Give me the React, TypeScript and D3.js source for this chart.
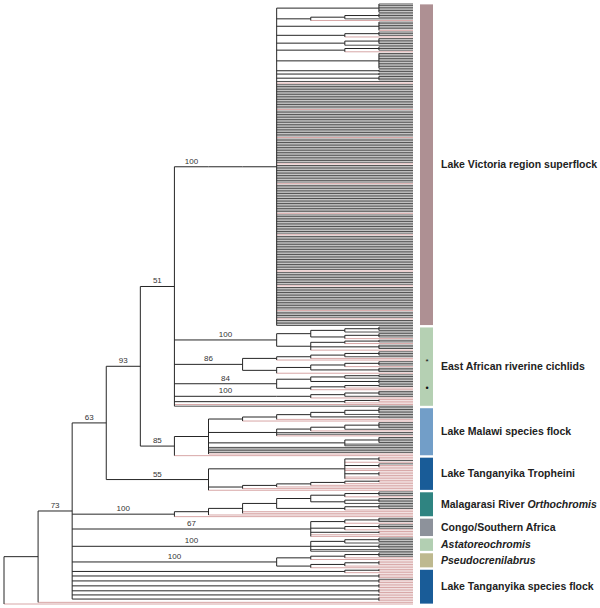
import React, { useMemo } from 'react';
import * as d3 from 'd3';

// ---- tree data (Newick-like: b = dark tip, p = pink tip, bN/pN = N sibling tips, ")NN" = support) ----
const victoria = "((b6),(((b3),b),p),(b5,p),((b3),p),((b4),b),((b3),p),(b10),(b2),(b2),(b3),b,p,b15,p,b16,p,b15,p,b11,p,b17,p,b12,p,b21,p,b8,p,b14,p,b4,p,b4)";
const riverine1 = "((((b3),b),((b3),p)),(((b2),p),(b3),p))100";
const riverine2 = "(((((b3),b),p),p),((((b3),p),(b3)),p))86";
const riverine3 = "((((b2),b),(b3)),(((b2),p),p))84";
const riverine4 = "((((b3),b),p))100";
const riverine5 = "((p2),p),p,b";
const malawi = "(((((((b4),b),(b2)),p),p),((((b4),b),p),b,b,p),((b4),b,b),b,b,b,b,p),p)85";
const tropheini = "(((p2,b),p,(b,p2),p,p,(p3),p,p),(((((p2),p),p),p),p),p)55";
const orthochromis = "(((((((b3),p),((b3),b)),((b3),p)),p,p),p),p)100";
const congo = "(((b3),p),((b3),p),(p2),p,p)67";
const astato = "(((b3),b),(b3),b,b)100";
const pseudo = "((((b3),p),p),(((p3),p),p))100";
const tanganyika = "((p2),p),(p3),(b,p2),(p3),(p3),(p2),(p3)";
const outgroups = "p,p";

const groupNames = [
  [{ t: "Lake Victoria region superflock", i: false }],
  [{ t: "East African riverine cichlids", i: false }],
  [{ t: "Lake Malawi species flock", i: false }],
  [{ t: "Lake Tanganyika Tropheini", i: false }],
  [{ t: "Malagarasi River ", i: false }, { t: "Orthochromis", i: true }],
  [{ t: "Congo/Southern Africa", i: false }],
  [{ t: "Astatoreochromis", i: true }],
  [{ t: "Pseudocrenilabrus", i: true }],
  [{ t: "Lake Tanganyika species flock", i: false }],
];
const groupColors = ["#ae9093", "#b5d0b3", "#729ec8", "#195c98", "#2f8481", "#8d929b", "#b2cfb2", "#beb98f", "#195c98"];
const groupClades = [
  [victoria],
  [riverine1, riverine2, riverine3, riverine4, riverine5],
  [malawi],
  [tropheini],
  [orthochromis],
  [congo],
  [astato],
  [pseudo],
  [tanganyika, outgroups],
];
const markSymbols = ["*", "•"];
const markLeaves = [217, 233];

const E = `(((${victoria}))100,${riverine1},${riverine2},${riverine3},${riverine4},${riverine5})51`;
const treeString = `(((((${E},${malawi})93,${tropheini})63,${orthochromis},${congo},${astato},${pseudo},${tanganyika})73,p),p)`;

type TNode = { children?: TNode[]; color?: string; label?: string };

function parse(src: string): TNode {
  const s = src.replace(/\s+/g, "");
  let i = 0;
  function item(): TNode[] {
    if (s[i] === "(") {
      i++;
      const kids: TNode[] = [];
      while (true) {
        kids.push(...item());
        if (s[i] === ",") { i++; continue; }
        break;
      }
      i++; // ')'
      let lab = "";
      while (i < s.length && /[0-9]/.test(s[i])) lab += s[i++];
      return [{ children: kids, label: lab || undefined }];
    }
    const c = s[i++];
    let n = "";
    while (i < s.length && /[0-9]/.test(s[i])) n += s[i++];
    const k = n ? +n : 1;
    return Array.from({ length: k }, () => ({ color: c }));
  }
  return item()[0];
}

function countLeaves(parts: string[]): number {
  const r = d3.hierarchy(parse(`(${parts.join(",")})`), (d: TNode) => d.children);
  return r.leaves().length;
}

const TIP_COLORS: Record<string, string> = { b: "#3b3b3b", p: "#d29c9c" };
const FONT = "'Liberation Sans', Arial, Helvetica, sans-serif";

export default function App() {
  const model = useMemo(() => {
    const root: any = d3.hierarchy(parse(treeString), (d: TNode) => d.children);
    const leaves = root.leaves();
    const N = leaves.length;
    const y = d3.scaleLinear().domain([0, N - 1]).range([4, 604]);
    const x = d3.scaleLinear().domain([root.height, 0]).range([4, 413]);
    leaves.forEach((l: any, i: number) => (l.yy = y(i)));
    root.eachAfter((n: any) => {
      if (n.children) n.yy = (n.children[0].yy + n.children[n.children.length - 1].yy) / 2;
    });
    const tipLines: any[] = [];
    const innerLines: any[] = [];
    const labels: any[] = [];
    root.descendants().forEach((n: any) => {
      if (n.parent) {
        const seg = { x1: x(n.parent.height), x2: x(n.height), y: n.yy, color: n.children ? "#262626" : TIP_COLORS[n.data.color] };
        (n.children ? innerLines : tipLines).push(seg);
        if (n.data.label) labels.push({ x: (seg.x1 + seg.x2) / 2, y: n.yy - 3, t: n.data.label });
      }
      if (n.children && n.children.length > 1) {
        innerLines.push({ v: true, x: x(n.height), y1: n.children[0].yy, y2: n.children[n.children.length - 1].yy });
      }
    });
    const step = y(1) - y(0);
    let start = 0;
    const bars = groupClades.map((parts, gi) => {
      const c = countLeaves(parts);
      const b = { y0: y(start) - step / 2 + 1.2, y1: y(start + c - 1) + step / 2 - 1.2, color: groupColors[gi], name: groupNames[gi] };
      start += c;
      return b;
    });
    const marks = markLeaves.map((li, k) => ({ y: y(li), s: markSymbols[k] }));
    return { tipLines, innerLines, labels, bars, marks };
  }, []);

  return (
    <svg width={600} height={608} style={{ position: "absolute", left: 0, top: 0, background: "#fff" }} fontFamily={FONT}>
      <g>
        {model.tipLines.map((l, i) => (
          <line key={"t" + i} x1={l.x1} x2={l.x2} y1={l.y} y2={l.y} stroke={l.color} strokeWidth={0.9} />
        ))}
      </g>
      <g>
        {model.innerLines.map((l, i) =>
          l.v ? (
            <line key={"v" + i} x1={l.x} x2={l.x} y1={l.y1} y2={l.y2} stroke="#262626" strokeWidth={1} />
          ) : (
            <line key={"h" + i} x1={l.x1} x2={l.x2} y1={l.y} y2={l.y} stroke={l.color} strokeWidth={1} />
          )
        )}
      </g>
      <g fontSize={8} fill="#333" textAnchor="middle">
        {model.labels.map((l, i) => (
          <text key={"l" + i} x={l.x} y={l.y}>{l.t}</text>
        ))}
      </g>
      <g>
        {model.bars.map((b, i) => (
          <g key={"b" + i}>
            <rect x={420} y={b.y0} width={13} height={b.y1 - b.y0} fill={b.color} />
            <text x={441} y={(b.y0 + b.y1) / 2} dy="0.35em" fontSize={10.5} fontWeight="bold" fill="#222">
              {b.name.map((p, k) => (
                <tspan key={k} fontStyle={p.i ? "italic" : "normal"}>{p.t}</tspan>
              ))}
            </text>
          </g>
        ))}
      </g>
      <g textAnchor="middle" fill="#111">
        {model.marks.map((m, i) => (
          <text key={"m" + i} x={427} y={m.y} dy="0.35em" fontSize={m.s === "*" ? 8 : 9}>{m.s}</text>
        ))}
      </g>
    </svg>
  );
}
